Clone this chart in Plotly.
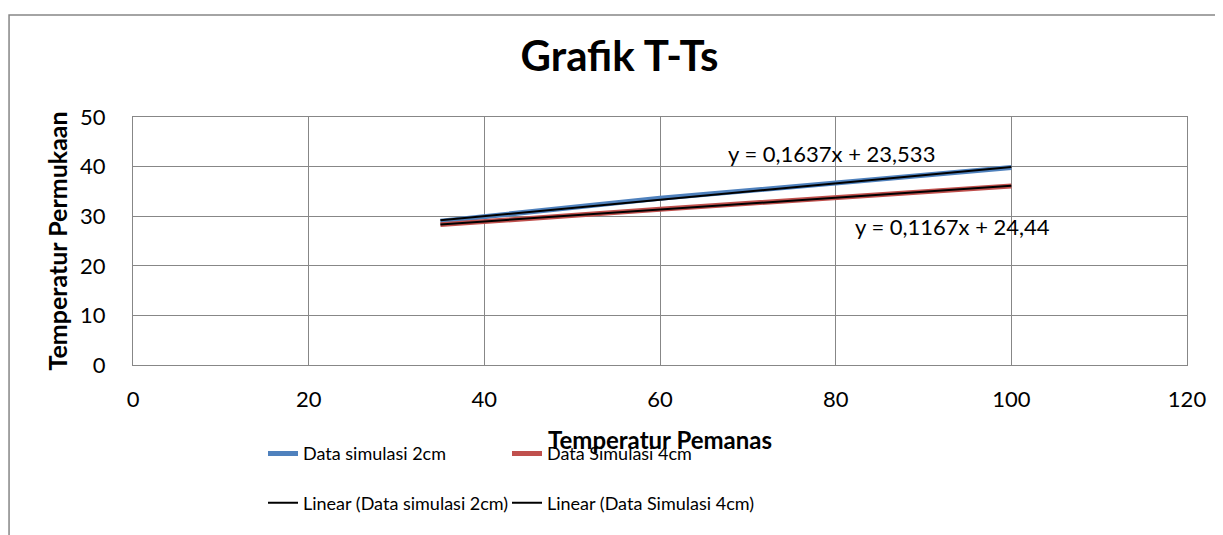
import numpy as np
import plotly.graph_objects as go

# Data
x_vals = [35, 60, 100]
sim_2cm = [29.0, 33.6, 39.8]
sim_4cm = [28.3, 31.4, 36.1]
name_2 = "Data simulasi 2cm"
name_4 = "Data Simulasi 4cm"
eq_2 = "y = 0,1637x + 23,533"
eq_4 = "y = 0,1167x + 24,44"
title = "Grafik T-Ts"
x_title = "Temperatur Pemanas"
y_title = "Temperatur Permukaan"
x_ticks = [0, 20, 40, 60, 80, 100, 120]
y_ticks = [0, 10, 20, 30, 40, 50]

FONT = "Lato"
BLUE = "#4F81BD"
RED = "#C0504D"
GRID = "#878787"

xs = np.array(x_vals, dtype=float)
p2 = np.polyfit(xs, sim_2cm, 1)
p4 = np.polyfit(xs, sim_4cm, 1)
xr = np.array([xs.min(), xs.max()])

fig = go.Figure()
fig.add_trace(go.Scatter(x=x_vals, y=sim_2cm, mode="lines", name=name_2,
                         line=dict(color=BLUE, width=5), legend="legend", legendgroup="a"))
fig.add_trace(go.Scatter(x=x_vals, y=sim_4cm, mode="lines", name=name_4,
                         line=dict(color=RED, width=5), legend="legend2", legendgroup="c"))
fig.add_trace(go.Scatter(x=xr, y=np.polyval(p2, xr), mode="lines",
                         name="Linear (" + name_2 + ")",
                         line=dict(color="black", width=2), legend="legend", legendgroup="b"))
fig.add_trace(go.Scatter(x=xr, y=np.polyval(p4, xr), mode="lines",
                         name="Linear (" + name_4 + ")",
                         line=dict(color="black", width=2), legend="legend2", legendgroup="d"))

fig.add_annotation(x=80, y=np.polyval(p2, 80), text=eq_2, showarrow=False,
                   xref="x", yref="y", xshift=-4, yshift=30,
                   font=dict(family=FONT, size=22, color="black"))
fig.add_annotation(x=100, y=np.polyval(p4, 100), text=eq_4, showarrow=False,
                   xref="x", yref="y", xshift=-59, yshift=-41,
                   font=dict(family=FONT, size=22, color="black"))

# chart-area border
fig.add_shape(type="rect", xref="paper", yref="paper",
              x0=-0.1176, x1=1.2, y0=-1.0, y1=1.411,
              line=dict(color="#868686", width=1.5), layer="below")

legend_common = dict(orientation="v", xanchor="left", yanchor="top",
                     font=dict(family=FONT, size=18, color="black"),
                     bgcolor="rgba(0,0,0,0)", tracegroupgap=23,
                     itemwidth=30)
fig.update_layout(
    width=1223, height=535,
    margin=dict(l=125, r=44, t=109, b=178),
    paper_bgcolor="white", plot_bgcolor="white",
    title=dict(text="<b>" + title + "</b>", x=0.5, xref="container", xanchor="center",
               y=1 - 48 / 535, yref="container", yanchor="middle",
               font=dict(family=FONT, size=42, color="black")),
    font=dict(family=FONT, color="black"),
    legend=dict(x=(262 - 132) / 1054, y=-0.283, **legend_common),
    legend2=dict(x=(506 - 132) / 1054, y=-0.283, **legend_common),
    xaxis=dict(range=[0, 120], tickvals=x_ticks, showgrid=True, gridcolor=GRID,
               gridwidth=1, showline=True, linecolor=GRID, mirror=True, zeroline=False,
               ticks="", ticklabelstandoff=15, tickfont=dict(family=FONT, size=22),
               title=dict(text="<b>" + x_title + "</b>", standoff=20,
                          font=dict(family=FONT, size=24))),
    yaxis=dict(range=[0, 50], tickvals=y_ticks, showgrid=True, gridcolor=GRID,
               gridwidth=1, showline=True, linecolor=GRID, mirror=True, zeroline=False,
               ticks="", ticklabelstandoff=22, tickfont=dict(family=FONT, size=22),
               title=dict(text="<b>" + y_title + "</b>", standoff=5,
                          font=dict(family=FONT, size=25))),
)

fig.write_html("out.html")
